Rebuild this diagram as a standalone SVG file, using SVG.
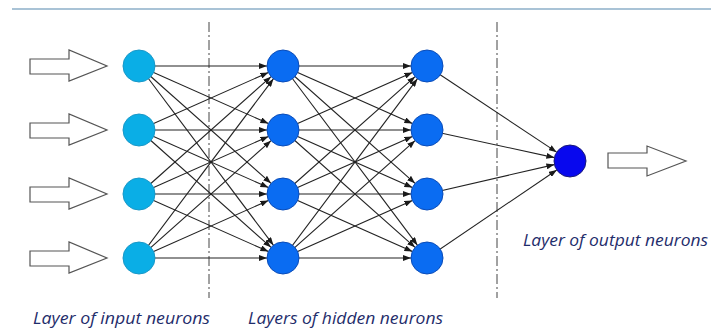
<svg xmlns="http://www.w3.org/2000/svg" width="711" height="333" viewBox="0 0 711 333">
<style>
.c{stroke:#222;stroke-width:1.1;fill:none;marker-end:url(#ah)}
.in{fill:#0aaee6;stroke:#1a98c8;stroke-width:1}
.hid{fill:#0a6cf2;stroke:#0a4cb8;stroke-width:1}
.out{fill:#0808ee;stroke:#1a1a7a;stroke-width:1}
.bar{fill:#fff;stroke:#555;stroke-width:1.2}
.sep{stroke:#444;stroke-width:1;stroke-dasharray:10 3 2 3}
.lbl{font-family:"Open Sans","DejaVu Sans",sans-serif;font-style:italic;font-size:16px;fill:#1f2d6b}
</style>
<defs>
<marker id="ah" markerWidth="8" markerHeight="6" refX="8" refY="3" orient="auto" markerUnits="userSpaceOnUse">
<path d="M0,0 L8,3 L0,6 z" fill="#1a1a1a"/>
</marker>
</defs>
<rect width="711" height="333" fill="#fff"/>
<line x1="12" y1="9" x2="711" y2="9" stroke="#a9c3d6" stroke-width="2"/>
<line class="sep" x1="209" y1="22" x2="209" y2="298"/>
<line class="sep" x1="497" y1="22" x2="497" y2="298"/>
<g id="connectors">
<line class="c" x1="139" y1="66" x2="267" y2="66"/>
<line class="c" x1="139" y1="66" x2="268.38" y2="123.5"/>
<line class="c" x1="139" y1="66" x2="271.04" y2="183.37"/>
<line class="c" x1="139" y1="66" x2="273.4" y2="245.2"/>
<line class="c" x1="139" y1="130" x2="268.38" y2="72.5"/>
<line class="c" x1="139" y1="130" x2="267" y2="130"/>
<line class="c" x1="139" y1="130" x2="268.38" y2="187.5"/>
<line class="c" x1="139" y1="130" x2="271.04" y2="247.37"/>
<line class="c" x1="139" y1="194" x2="271.04" y2="76.63"/>
<line class="c" x1="139" y1="194" x2="268.38" y2="136.5"/>
<line class="c" x1="139" y1="194" x2="267" y2="194"/>
<line class="c" x1="139" y1="194" x2="268.38" y2="251.5"/>
<line class="c" x1="139" y1="258" x2="273.4" y2="78.8"/>
<line class="c" x1="139" y1="258" x2="271.04" y2="140.63"/>
<line class="c" x1="139" y1="258" x2="268.38" y2="200.5"/>
<line class="c" x1="139" y1="258" x2="267" y2="258"/>
<line class="c" x1="283" y1="66" x2="411" y2="66"/>
<line class="c" x1="283" y1="66" x2="412.38" y2="123.5"/>
<line class="c" x1="283" y1="66" x2="415.04" y2="183.37"/>
<line class="c" x1="283" y1="66" x2="417.4" y2="245.2"/>
<line class="c" x1="283" y1="130" x2="412.38" y2="72.5"/>
<line class="c" x1="283" y1="130" x2="411" y2="130"/>
<line class="c" x1="283" y1="130" x2="412.38" y2="187.5"/>
<line class="c" x1="283" y1="130" x2="415.04" y2="247.37"/>
<line class="c" x1="283" y1="194" x2="415.04" y2="76.63"/>
<line class="c" x1="283" y1="194" x2="412.38" y2="136.5"/>
<line class="c" x1="283" y1="194" x2="411" y2="194"/>
<line class="c" x1="283" y1="194" x2="412.38" y2="251.5"/>
<line class="c" x1="283" y1="258" x2="417.4" y2="78.8"/>
<line class="c" x1="283" y1="258" x2="415.04" y2="140.63"/>
<line class="c" x1="283" y1="258" x2="412.38" y2="200.5"/>
<line class="c" x1="283" y1="258" x2="411" y2="258"/>
<line class="c" x1="427" y1="66" x2="556.67" y2="152.15"/>
<line class="c" x1="427" y1="130" x2="554.36" y2="157.61"/>
<line class="c" x1="427" y1="194" x2="554.41" y2="164.6"/>
<line class="c" x1="427" y1="258" x2="556.76" y2="169.98"/>
</g>
<g id="input-arrow-1"><polygon class="bar" points="30,59 69,59 69,50 107,66 69,81 69,74 30,74"/></g>
<g id="input-arrow-2"><polygon class="bar" points="30,123 69,123 69,114 107,130 69,145 69,138 30,138"/></g>
<g id="input-arrow-3"><polygon class="bar" points="30,187 69,187 69,178 107,194 69,209 69,202 30,202"/></g>
<g id="input-arrow-4"><polygon class="bar" points="30,251 69,251 69,242 107,258 69,273 69,266 30,266"/></g>
<g id="output-arrow"><polygon class="bar" points="608,153 647,153 647,146 686,161 647,176 647,168 608,168"/></g>
<g id="in1"><circle class="in" cx="139" cy="66" r="16"/></g>
<g id="in2"><circle class="in" cx="139" cy="130" r="16"/></g>
<g id="in3"><circle class="in" cx="139" cy="194" r="16"/></g>
<g id="in4"><circle class="in" cx="139" cy="258" r="16"/></g>
<g id="h1a"><circle class="hid" cx="283" cy="66" r="16"/></g>
<g id="h1b"><circle class="hid" cx="283" cy="130" r="16"/></g>
<g id="h1c"><circle class="hid" cx="283" cy="194" r="16"/></g>
<g id="h1d"><circle class="hid" cx="283" cy="258" r="16"/></g>
<g id="h2a"><circle class="hid" cx="427" cy="66" r="16"/></g>
<g id="h2b"><circle class="hid" cx="427" cy="130" r="16"/></g>
<g id="h2c"><circle class="hid" cx="427" cy="194" r="16"/></g>
<g id="h2d"><circle class="hid" cx="427" cy="258" r="16"/></g>
<g id="out"><circle class="out" cx="570" cy="161" r="16"/></g>
<g id="labels">
<text class="lbl" x="33" y="324" textLength="177" lengthAdjust="spacingAndGlyphs">Layer of input neurons</text>
<text class="lbl" x="248" y="324" textLength="195" lengthAdjust="spacingAndGlyphs">Layers of hidden neurons</text>
<text class="lbl" x="523" y="246" textLength="185" lengthAdjust="spacingAndGlyphs">Layer of output neurons</text>
</g>
</svg>
